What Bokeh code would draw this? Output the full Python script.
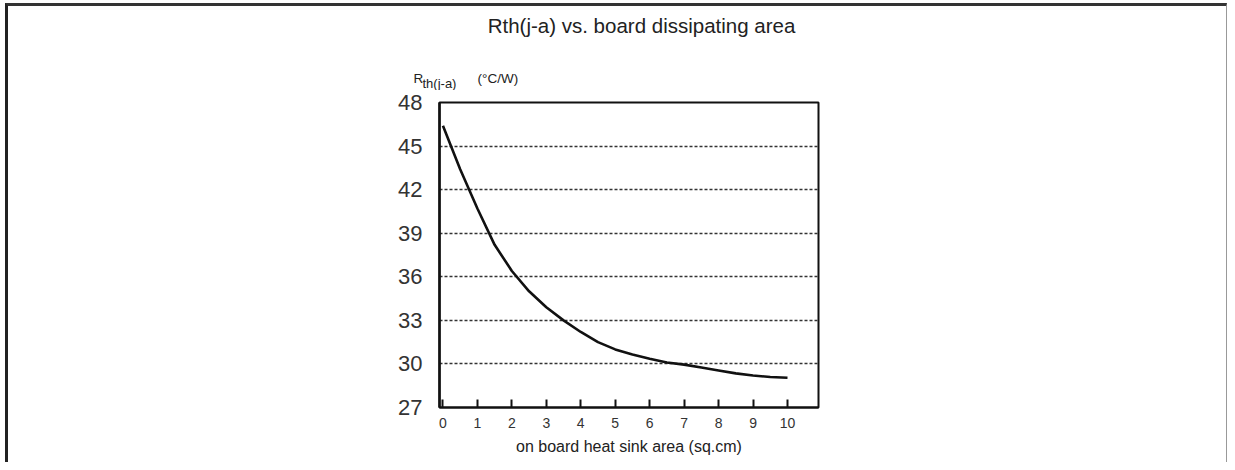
from bokeh.plotting import figure
from bokeh.layouts import column
from bokeh.models import Range1d, FixedTicker, Label
from bokeh.embed import file_html
from bokeh.resources import INLINE

# ---- data ----
area_sqcm = [0, 0.5, 1, 1.5, 2, 2.5, 3, 3.5, 4, 4.5, 5, 5.5, 6, 6.5, 7, 7.5, 8, 8.5, 9, 9.5, 10]
rth_ja = [46.4, 43.4, 40.7, 38.2, 36.4, 35.0, 33.9, 33.0, 32.2, 31.5, 31.0, 30.65, 30.35,
          30.1, 29.95, 29.75, 29.55, 29.35, 29.2, 29.1, 29.05]
x_ticks = [0, 1, 2, 3, 4, 5, 6, 7, 8, 9, 10]
y_ticks = [27, 30, 33, 36, 39, 42, 45, 48]
title_text = "Rth(j-a) vs. board dissipating area"
y_label_main = "R"
y_label_sub = "th(j-a)"
y_label_unit = "(°C/W)"
x_label = "on board heat sink area (sq.cm)"

FONT = "Liberation Sans"
X0, X1 = -0.1, 10.9
Y0, Y1 = 27, 48
W = 1218
HH = 84      # header height
HM = 372     # main figure height
FL, FW, FT, FH = 431, 379, 12, 305   # main frame: left border, width, top border, height


def no_align(fig):
    if "frame_align" in fig.properties():
        fig.frame_align = False


# ---- header (title + y-axis title) ----
hdr = figure(frame_width=W, frame_height=HH, output_backend="svg", toolbar_location=None,
             x_range=Range1d(0, W), y_range=Range1d(0, HH),
             x_axis_location=None, y_axis_location=None, min_border=0)
no_align(hdr)
hdr.grid.visible = False
hdr.outline_line_color = None
hdr.background_fill_color = "white"
hdr.border_fill_color = "white"

hdr.add_layout(Label(x=633, y=65, text=title_text, text_align="center",
                     text_baseline="middle", text_font=FONT, text_font_size="20.5px",
                     text_color="#222"))
hdr.add_layout(Label(x=405, y=12, text=y_label_main, text_align="left",
                     text_baseline="alphabetic", text_font=FONT, text_font_size="13.5px",
                     text_color="#222"))
hdr.add_layout(Label(x=414, y=7, text=y_label_sub, text_align="left",
                     text_baseline="alphabetic", text_font=FONT, text_font_size="13px",
                     text_color="#222"))
hdr.add_layout(Label(x=469, y=12, text=y_label_unit, text_align="left",
                     text_baseline="alphabetic", text_font=FONT, text_font_size="13.5px",
                     text_color="#222"))

# ---- main chart ----
p = figure(width=W, height=HM, output_backend="svg", toolbar_location=None,
           x_range=Range1d(X0, X1), y_range=Range1d(Y0, Y1),
           min_border_left=FL, min_border_right=W - FL - FW,
           min_border_top=FT, min_border_bottom=HM - FT - FH)
no_align(p)
p.background_fill_color = "white"
p.border_fill_color = "white"
p.outline_line_color = "#111"
p.outline_line_width = 2

# y axis
ya = p.yaxis[0]
ya.ticker = FixedTicker(ticks=y_ticks)
ya.major_tick_in = 0
ya.major_tick_out = 0
ya.minor_tick_line_color = None
ya.major_label_standoff = 17
ya.major_label_text_font = FONT
ya.major_label_text_font_size = "22px"
ya.major_label_text_color = "#333"
ya.axis_line_color = "#111"
ya.axis_line_width = 2.5

# x axis
xa = p.xaxis[0]
xa.ticker = FixedTicker(ticks=x_ticks)
xa.major_tick_in = 8
xa.major_tick_out = 0
xa.major_tick_line_width = 2
xa.major_tick_line_color = "#111"
xa.minor_tick_line_color = None
xa.major_label_standoff = 10
xa.major_label_text_font = FONT
xa.major_label_text_font_size = "14px"
xa.major_label_text_color = "#333"
xa.axis_line_color = "#111"
xa.axis_line_width = 2
xa.axis_label = x_label
xa.axis_label_text_font = FONT
xa.axis_label_text_font_size = "16px"
xa.axis_label_text_font_style = "normal"
xa.axis_label_text_color = "#222"
xa.axis_label_standoff = 7

# grid
p.xgrid.grid_line_color = None
p.ygrid.ticker = FixedTicker(ticks=y_ticks[1:-1])
p.ygrid.grid_line_color = "#333"
p.ygrid.grid_line_dash = "3 2"
p.ygrid.grid_line_width = 1.3

# curve
p.line(area_sqcm, rth_ja, line_color="#111", line_width=2.6)

layout = column(hdr, p, spacing=0)
layout.styles = {"border-left": "3px solid #222", "border-top": "3px solid #333",
                 "border-right": "1px solid #999",
                 "margin-left": "5px", "margin-top": "3px"}

open("out.html", "w").write(file_html(layout, INLINE))
